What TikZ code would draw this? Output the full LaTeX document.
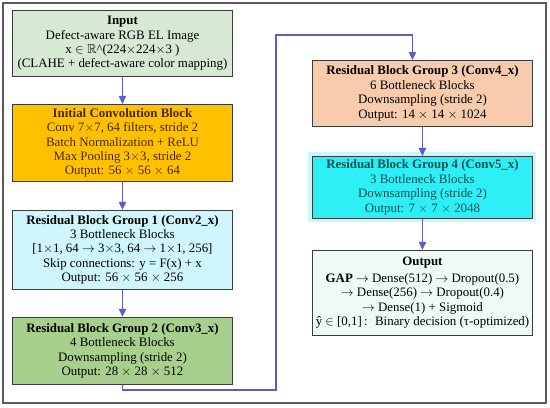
\documentclass[tikz,border=0pt]{standalone}
\usepackage{amsmath,amssymb}
\usepackage{fontspec}
\setmainfont{Liberation Serif}
\usetikzlibrary{arrows.meta,positioning}

\definecolor{framegray}{HTML}{5A5A5A}
\definecolor{boxline}{HTML}{3C3C3C}
\definecolor{arrowblue}{HTML}{5A5EC6}
\definecolor{inputgreen}{HTML}{D6E9D2}
\definecolor{convorange}{HTML}{FFC000}
\definecolor{convtext}{HTML}{4A2800}
\definecolor{lightcyan}{HTML}{CFF6FC}
\definecolor{olivegreen}{HTML}{A8D08D}
\definecolor{peach}{HTML}{F8CBAD}
\definecolor{brighcyan}{HTML}{2EEFF5}
\definecolor{cyanhalo}{HTML}{C4FAFC}
\definecolor{tealtext}{HTML}{0F4F4F}
\definecolor{mint}{HTML}{EEFBF5}

\begin{document}
\begin{tikzpicture}[
  x=0.03cm, y=-0.03cm,
  box/.style={draw=boxline, line width=0.8pt, minimum width=6.6cm, align=center, inner sep=2pt, font=\fontsize{11}{12.3}\selectfont},
  arr/.style={-{Triangle[length=2.4mm, width=2.2mm]}, draw=arrowblue, line width=1.2pt}
]
\useasboundingbox (0,0) rectangle (550,407);
\draw[framegray, line width=1pt] (3,3) rectangle (546,403);

% left column
\node[box, fill=inputgreen, minimum height=1.98cm, anchor=north west] (input) at (12,10)
  {\textbf{Input}\\ Defect-aware RGB EL Image\\ x $\in\mathbb{R}$\textasciicircum(224$\times$224$\times$3 )\\ (CLAHE + defect-aware color mapping)};
\node[box, fill=convorange, text=convtext, minimum height=2.31cm, below=0.81cm of input] (conv)
  {\textbf{Initial Convolution Block}\\ Conv 7$\times$7, 64 filters, stride 2\\ Batch Normalization + ReLU\\ Max Pooling 3$\times$3, stride 2\\ Output: 56 $\times$ 56 $\times$ 64};
\node[box, fill=lightcyan, minimum height=2.37cm, below=0.84cm of conv] (rbg1)
  {\textbf{Residual Block Group 1 (Conv2\_x)}\\ 3 Bottleneck Blocks\\ {[}1$\times$1, 64 $\rightarrow$ 3$\times$3, 64 $\rightarrow$ 1$\times$1, 256]\\ Skip connections: y = F(x) + x\\ Output: 56 $\times$ 56 $\times$ 256};
\node[box, fill=olivegreen, minimum height=2.01cm, below=0.81cm of rbg1] (rbg2)
  {\textbf{Residual Block Group 2 (Conv3\_x)}\\ 4 Bottleneck Blocks\\ Downsampling (stride 2)\\ Output: 28 $\times$ 28 $\times$ 512};

% right column
\node[box, fill=peach, minimum height=1.98cm, anchor=north west] (rbg3) at (312,60)
  {\textbf{Residual Block Group 3 (Conv4\_x)}\\ 6 Bottleneck Blocks\\ Downsampling (stride 2)\\ Output: 14 $\times$ 14 $\times$ 1024};
\node[box, fill=brighcyan, text=tealtext, minimum height=1.86cm, below=0.87cm of rbg3,
      preaction={draw=cyanhalo, line width=0.24cm}] (rbg4)
  {\textbf{Residual Block Group 4 (Conv5\_x)}\\ 3 Bottleneck Blocks\\ Downsampling (stride 2)\\ Output: 7 $\times$ 7 $\times$ 2048};
\node[box, fill=mint, minimum height=2.55cm, below=0.93cm of rbg4] (output)
  {\textbf{Output}\\[2pt] \textbf{GAP} $\rightarrow$ Dense(512) $\rightarrow$ Dropout(0.5)\\ $\rightarrow$ Dense(256) $\rightarrow$ Dropout(0.4)\\ $\rightarrow$ Dense(1) + Sigmoid\\ ŷ $\in$ [0,1]\,: \ Binary decision (τ-optimized)};

% connectors
\coordinate (low) at (276,390);
\coordinate (high) at (276,35);
\draw[arr] (input) -- (conv);
\draw[arr] (conv) -- (rbg1);
\draw[arr] (rbg1) -- (rbg2);
\draw[arr] (rbg2.south) |- (low) -- (high) -| ([xshift=-0.3cm]rbg3.north);
\draw[arr] (rbg3) -- (rbg4);
\draw[arr] (rbg4) -- (output);
\end{tikzpicture}
\end{document}
